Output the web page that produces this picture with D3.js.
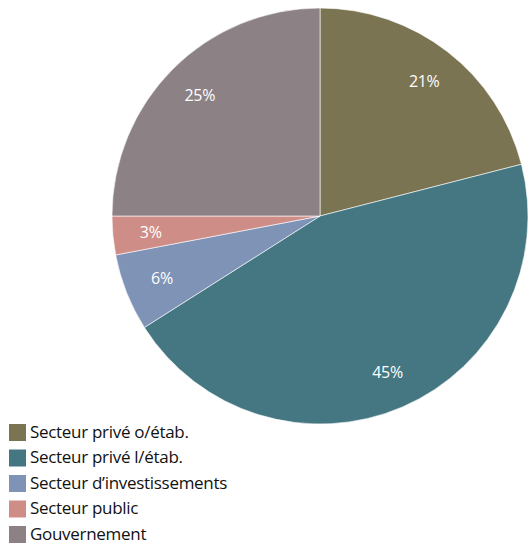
<!DOCTYPE html>
<html>
<head>
<meta charset="utf-8">
<script src="https://cdn.jsdelivr.net/npm/d3@7"></script>
<style>
  html, body { margin: 0; padding: 0; background: #ffffff; }
  svg { display: block; }
  text { font-family: "Open Sans", "Noto Sans", sans-serif; }
</style>
</head>
<body>
<svg id="chart" width="529" height="545"></svg>
<script>
// Répartition par secteur
const categories = [
  "Secteur privé o/étab.",
  "Secteur privé l/étab.",
  "Secteur d’investissements",
  "Secteur public",
  "Gouvernement"
];
const values = [21, 45, 6, 3, 25];
const colors = ["#7b7452", "#447781", "#7e93b6", "#cf8d88", "#8c8185"];

const data = categories.map((c, i) => ({ name: c, value: values[i], color: colors[i] }));

const svg = d3.select("#chart");
const cx = 320, cy = 216, radius = 208;

const pie = d3.pie().value(d => d.value).sort(null);
const arc = d3.arc().innerRadius(0).outerRadius(radius);
const labelArc = d3.arc().innerRadius(170).outerRadius(170);

const g = svg.append("g").attr("transform", `translate(${cx},${cy})`);
const arcs = pie(data);

g.selectAll("path.slice")
  .data(arcs)
  .join("path")
  .attr("class", "slice")
  .attr("d", arc)
  .attr("fill", d => d.data.color)
  .attr("stroke", "#ffffff")
  .attr("stroke-width", 0.6);

g.selectAll("text.pct")
  .data(arcs)
  .join("text")
  .attr("class", "pct")
  .attr("transform", d => `translate(${labelArc.centroid(d)})`)
  .attr("text-anchor", "middle")
  .attr("dy", "0.35em")
  .attr("fill", "#ffffff")
  .attr("font-size", 16)
  .attr("letter-spacing", -0.3)
  .text(d => d.data.value + "%");

// Légende
const legend = svg.append("g").attr("transform", "translate(9,424)");
const rows = legend.selectAll("g.row")
  .data(data)
  .join("g")
  .attr("class", "row")
  .attr("transform", (d, i) => `translate(0,${i * 25.5})`);

rows.append("rect")
  .attr("width", 17)
  .attr("height", 17)
  .attr("fill", d => d.color);

rows.append("text")
  .attr("x", 21)
  .attr("y", 8)
  .attr("dy", "0.35em")
  .attr("font-size", 17)
  .attr("letter-spacing", -0.3)
  .attr("fill", "#111111")
  .text(d => d.name);
</script>
</body>
</html>
